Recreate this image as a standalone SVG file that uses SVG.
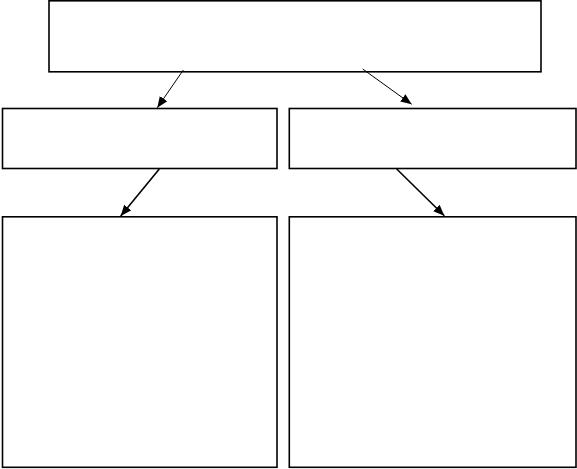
<svg xmlns="http://www.w3.org/2000/svg" width="577" height="469" viewBox="0 0 577 469">
<style>
.box{fill:#fff;stroke:#000;stroke-width:1.6}
.thin{stroke:#000;stroke-width:1;fill:none}
.thick{stroke:#000;stroke-width:1.6;fill:none}
</style>
<defs>
<marker id="ah" markerUnits="userSpaceOnUse" markerWidth="12" markerHeight="10" refX="11" refY="4.5" orient="auto" viewBox="0 0 12 9">
<path d="M0,0 L11,4.5 L0,9 Z" fill="#000"/>
</marker>
</defs>
<rect width="577" height="469" fill="#fff"/>
<g id="top"><rect class="box" x="49" y="0.8" width="492" height="71"/></g>
<g id="midLeft"><rect class="box" x="2.5" y="108.5" width="274.5" height="60"/></g>
<g id="midRight"><rect class="box" x="289.3" y="108.5" width="286.7" height="60"/></g>
<g id="botLeft"><rect class="box" x="2.5" y="216.8" width="274.5" height="250.5"/></g>
<g id="botRight"><rect class="box" x="289.3" y="216.8" width="286.7" height="250.5"/></g>
<g id="connectors">
<line class="thin" x1="183.3" y1="70" x2="157.3" y2="107.7" marker-end="url(#ah)"/>
<line class="thin" x1="362.7" y1="69" x2="411.7" y2="104.3" marker-end="url(#ah)"/>
<line class="thick" x1="159.3" y1="169" x2="120.7" y2="216" marker-end="url(#ah)"/>
<line class="thick" x1="396.7" y1="169" x2="444.3" y2="215.7" marker-end="url(#ah)"/>
</g>
</svg>
